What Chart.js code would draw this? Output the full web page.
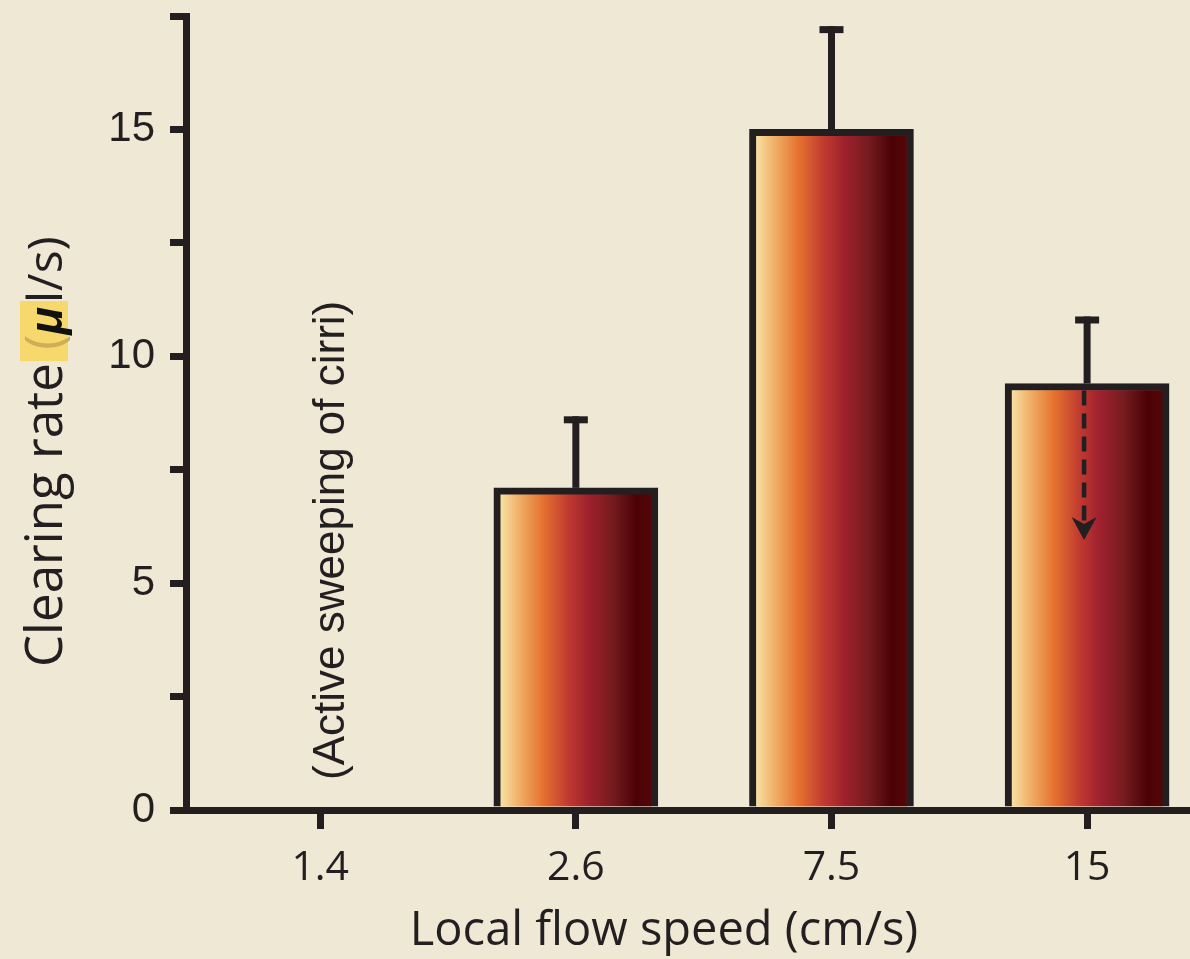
<!DOCTYPE html>
<html><head><meta charset="utf-8">
<script src="https://cdn.jsdelivr.net/npm/chart.js@4.4.1/dist/chart.umd.min.js"></script>
<style>html,body{margin:0;padding:0;background:#eee8d4;overflow:hidden}canvas{display:block}</style>
</head><body>
<canvas id="c" width="1190" height="959"></canvas>
<script>
// ---- data ----
const categories = ['1.4', '2.6', '7.5', '15'];
const clearingRate = [null, 7.1, 15.0, 9.4];
const errorTop = [null, 8.6, 17.2, 10.8];
const yTicks = [0, 2.5, 5, 7.5, 10, 12.5, 15, 17.5];
const yLabelled = [0, 5, 10, 15];
const arrowCategory = [3];
const arrowFrom = [9.4];
const arrowTo = [5.95];
const xTitle = 'Local flow speed (cm/s)';
const yTitleParts = ['Clearing rate', ' (', 'μ', 'l/s)'];
const noteText = '(Active sweeping of cirri)';
const noteCategory = [0];

const INK = '#231f20';
const BAR_W = 164, BORDER = 7;

const bgPlugin = {
  id: 'bg',
  beforeDraw(chart) {
    const c = chart.ctx;
    c.save();
    c.fillStyle = '#eee8d4';
    c.fillRect(0, 0, chart.width, chart.height);
    c.restore();
  }
};

const extrasPlugin = {
  id: 'extras',
  afterDatasetsDraw(chart) {
    const c = chart.ctx, xs = chart.scales.x, ys = chart.scales.y;
    c.save();
    c.strokeStyle = INK; c.lineWidth = 7; c.lineCap = 'butt';
    categories.forEach((cat, i) => {
      if (errorTop[i] == null || clearingRate[i] == null) return;
      const x = xs.getPixelForValue(i);
      const y0 = ys.getPixelForValue(clearingRate[i]);
      const y1 = ys.getPixelForValue(errorTop[i]);
      c.beginPath(); c.moveTo(x, y0); c.lineTo(x, y1 - 3.5); c.stroke();
      c.beginPath(); c.moveTo(x - 12, y1); c.lineTo(x + 12, y1); c.stroke();
    });
    arrowCategory.forEach((ci, k) => {
      const x = xs.getPixelForValue(ci) - 3;
      const yA = ys.getPixelForValue(arrowFrom[k]) + BORDER;
      const yB = ys.getPixelForValue(arrowTo[k]);
      c.setLineDash([15, 8]);
      c.lineWidth = 4.5;
      c.beginPath(); c.moveTo(x, yA); c.lineTo(x, yB - 16); c.stroke();
      c.setLineDash([]);
      c.fillStyle = INK;
      c.beginPath();
      c.moveTo(x, yB);
      c.lineTo(x - 12.5, yB - 23);
      c.lineTo(x, yB - 16);
      c.lineTo(x + 12.5, yB - 23);
      c.closePath(); c.fill();
    });
    c.restore();
  },
  afterDraw(chart) {
    const c = chart.ctx, xs = chart.scales.x, ys = chart.scales.y;
    c.save();
    c.fillStyle = INK;
    c.textBaseline = 'alphabetic';
    c.font = '47px "Open Sans"';
    c.textAlign = 'center';
    c.fillText(xTitle, 664, 945);
    c.save();
    c.translate(xs.getPixelForValue(noteCategory[0]) + 24, ys.getPixelForValue(0) - 30);
    c.rotate(-Math.PI / 2);
    c.font = '44px "Liberation Sans"';
    c.textAlign = 'left';
    c.fillText(noteText, 0, 0);
    c.restore();
    c.save();
    c.translate(62, 667);
    c.rotate(-Math.PI / 2);
    c.textAlign = 'left';
    const fMain = '51px "Open Sans"';
    const fEnd = '48px "Open Sans"';
    const fMu = 'italic bold 46px "Liberation Sans"';
    c.font = fMain;
    let x = 0;
    const w0 = c.measureText(yTitleParts[0]).width;
    const w1 = c.measureText(yTitleParts[1]).width;
    c.font = fMu;
    const w2 = c.measureText(yTitleParts[2]).width;
    c.fillStyle = '#f6d86c';
    c.fillRect(w0 + 2, -42, w1 + w2 + 4, 48);
    c.font = fMain; c.fillStyle = INK;
    c.fillText(yTitleParts[0], x, 0); x += w0;
    c.fillStyle = '#cfae5a';
    c.fillText(yTitleParts[1], x, 0); x += w1;
    c.font = fMu; c.fillStyle = '#111';
    c.fillText(yTitleParts[2], x, 0); x += w2 + 4;
    c.font = fEnd; c.fillStyle = INK;
    c.fillText(yTitleParts[3], x, 0);
    c.restore();
    c.restore();
  }
};

function barGradient(ctx) {
  const chart = ctx.chart;
  const xs = chart.scales && chart.scales.x;
  if (!xs || !ctx.parsed || ctx.parsed.x == null) return '#a2232d';
  const cx = xs.getPixelForValue(ctx.parsed.x);
  if (!isFinite(cx)) return '#a2232d';
  const l = cx - BAR_W / 2 + BORDER, r = cx + BAR_W / 2 - BORDER;
  const g = chart.ctx.createLinearGradient(l, 0, r, 0);
  g.addColorStop(0.00, '#f8e0a2');
  g.addColorStop(0.12, '#f0b068');
  g.addColorStop(0.28, '#e5722f');
  g.addColorStop(0.45, '#c03a30');
  g.addColorStop(0.58, '#a0222e');
  g.addColorStop(0.75, '#741b1e');
  g.addColorStop(0.90, '#4c0205');
  g.addColorStop(1.00, '#520608');
  return g;
}

new Chart(document.getElementById('c'), {
  type: 'bar',
  data: {
    datasets: [{
      data: clearingRate.map((v, i) => ({ x: i, y: v })),
      backgroundColor: barGradient,
      borderColor: INK,
      borderWidth: BORDER,
      borderSkipped: 'bottom',
      barThickness: BAR_W
    }]
  },
  options: {
    responsive: false,
    animation: false,
    events: [],
    layout: { padding: { left: 0, top: 16, right: 0, bottom: 0 } },
    plugins: { legend: { display: false }, tooltip: { enabled: false }, title: { display: false } },
    scales: {
      x: {
        type: 'linear',
        min: -0.525,
        max: 3.4025,
        offset: false,
        afterBuildTicks: s => { s.ticks = categories.map((c, i) => ({ value: i })); },
        afterFit: s => { s.height = 149; s.paddingLeft = 0; s.paddingRight = 0; },
        ticks: {
          callback: v => categories[v],
          font: { family: '"Open Sans"', size: 41 },
          color: INK,
          padding: 15,
          maxRotation: 0,
          autoSkip: false
        },
        grid: { offset: false, drawOnChartArea: false, drawTicks: true, tickLength: 19, lineWidth: 7, color: INK },
        border: { display: true, width: 7, color: INK }
      },
      y: {
        min: 0,
        max: 17.5,
        afterBuildTicks: s => { s.ticks = yTicks.map(v => ({ value: v })); },
        afterFit: s => { s.width = 186; s.paddingTop = 0; s.paddingBottom = 0; },
        ticks: {
          callback: v => (yLabelled.includes(v) ? String(v) : ''),
          font: { family: '"Liberation Sans"', size: 42 },
          color: INK,
          padding: 15
        },
        grid: { drawOnChartArea: false, drawTicks: true, tickLength: 16, lineWidth: 7, color: INK },
        border: { display: true, width: 7, color: INK }
      }
    }
  },
  plugins: [bgPlugin, extrasPlugin]
});
</script>
</body></html>
